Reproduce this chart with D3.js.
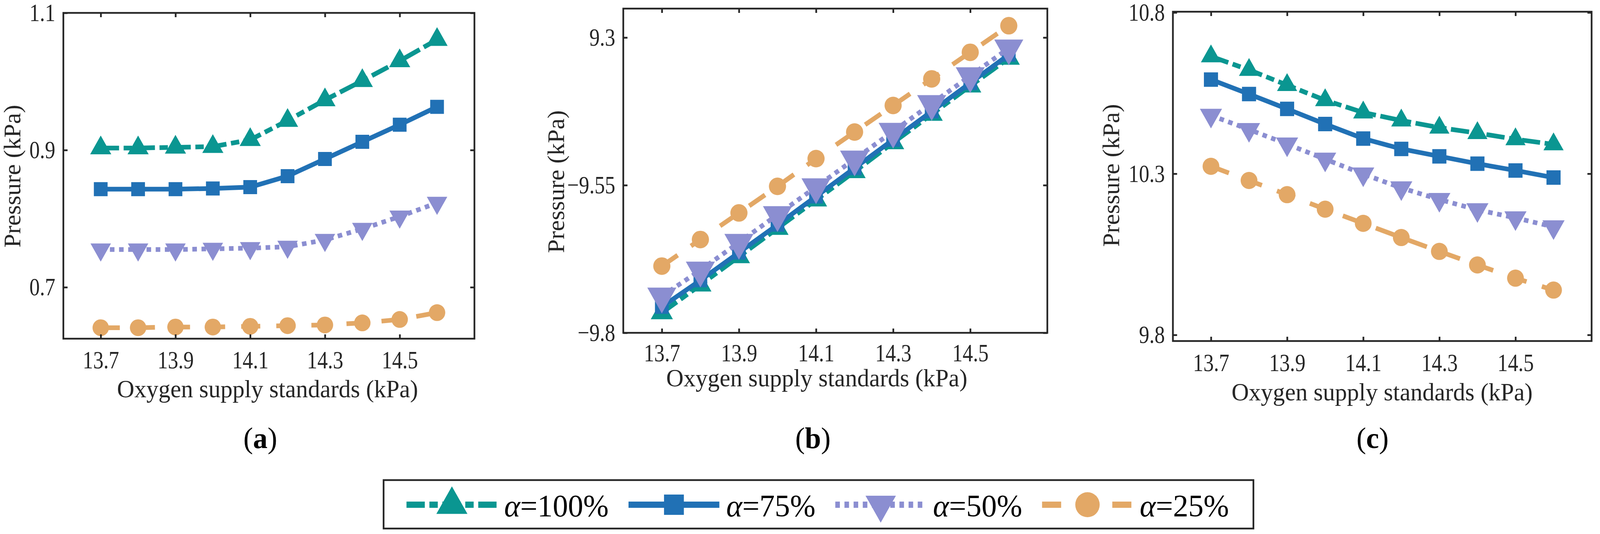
<!DOCTYPE html>
<html>
<head>
<meta charset="utf-8">
<script src="https://cdn.jsdelivr.net/npm/d3@7"></script>
<style>
  html, body { margin: 0; background: #fff; overflow: hidden; }
  svg, svg text { font-family: "Liberation Serif", "Times New Roman", serif; }
  svg { display: block; }
</style>
</head>
<body>
<div id="chart"></div>
<script>
const oxygenStandards = [13.7, 13.8, 13.9, 14.0, 14.1, 14.2, 14.3, 14.4, 14.5, 14.6];
const xTicks = [13.7, 13.9, 14.1, 14.3, 14.5];
const xTickLabels = ["13.7", "13.9", "14.1", "14.3", "14.5"];
const alphaLabels = ["100%", "75%", "50%", "25%"];
const panelTags = ["a", "b", "c"];
const xAxisTitle = "Oxygen supply standards (kPa)";
const yAxisTitle = "Pressure (kPa)";

// panel (a)
const pressureA100 = [0.903, 0.903, 0.904, 0.905, 0.915, 0.943, 0.973, 1.001, 1.030, 1.061];
const pressureA75 = [0.843, 0.843, 0.843, 0.844, 0.846, 0.862, 0.887, 0.912, 0.937, 0.963];
const pressureA50 = [0.755, 0.755, 0.755, 0.756, 0.757, 0.759, 0.769, 0.785, 0.803, 0.823];
const pressureA25 = [0.641, 0.641, 0.642, 0.642, 0.643, 0.644, 0.645, 0.648, 0.653, 0.663];
const yTicksA = [0.7, 0.9, 1.1];
const yTickLabelsA = ["0.7", "0.9", "1.1"];

// panel (b)
const pressureB100 = [-9.766, -9.719, -9.671, -9.623, -9.575, -9.527, -9.478, -9.430, -9.382, -9.335];
const pressureB75 = [-9.756, -9.711, -9.664, -9.617, -9.569, -9.521, -9.473, -9.425, -9.377, -9.329];
const pressureB50 = [-9.738, -9.694, -9.647, -9.600, -9.553, -9.506, -9.459, -9.412, -9.365, -9.318];
const pressureB25 = [-9.687, -9.642, -9.597, -9.552, -9.505, -9.460, -9.415, -9.370, -9.325, -9.280];
const yTicksB = [-9.8, -9.55, -9.3];
const yTickLabelsB = ["\u22129.8", "\u22129.55", "9.3"];

// panel (c)
const pressureC100 = [10.664, 10.622, 10.575, 10.528, 10.490, 10.465, 10.443, 10.426, 10.407, 10.391];
const pressureC75 = [10.592, 10.547, 10.501, 10.454, 10.409, 10.377, 10.354, 10.331, 10.310, 10.288];
const pressureC50 = [10.481, 10.437, 10.392, 10.345, 10.299, 10.256, 10.220, 10.188, 10.163, 10.135];
const pressureC25 = [10.323, 10.279, 10.235, 10.190, 10.146, 10.102, 10.059, 10.017, 9.976, 9.939];
const yTicksC = [9.8, 10.3, 10.8];
const yTickLabelsC = ["9.8", "10.3", "10.8"];

const ink = "#262626";
const serif = "Liberation Serif, Times New Roman, serif";
const tickSqueeze = 0.85; // tick numbers in the figure are narrower than Times
const seriesStyle = [
    { color: "#0a9691", dash: "48,12,22,12", marker: "up" },
    { color: "#2171b5", dash: null, marker: "square" },
    { color: "#8b8ed1", dash: "12,12", marker: "down" },
    { color: "#e3a866", dash: "50,42", marker: "circle" }
];

const panels = [
    { box: { left: 166, right: 1243, top: 33, bottom: 867 }, yDomain: [0.625, 1.1],
      yTicks: yTicksA, yTickLabels: yTickLabelsA,
      series: [pressureA100, pressureA75, pressureA50, pressureA25],
      sizes: { up: 32, square: 36, down: 31, circle: 21.5 },
      tickPad: 31, xTitle: [701, 1017], yTitle: [53, 451], tagX: 682 },
    { box: { left: 1633, right: 2744, top: 22, bottom: 852 }, yDomain: [-9.8, -9.251],
      yTicks: yTicksB, yTickLabels: yTickLabelsB,
      series: [pressureB100, pressureB75, pressureB50, pressureB25],
      sizes: { up: 33.5, square: 36, down: 44, circle: 22.5 },
      tickPad: 28, xTitle: [2140, 989], yTitle: [1478, 465], tagX: 2130 },
    { box: { left: 3073, right: 4170, top: 30, bottom: 873 }, yDomain: [9.781, 10.8025],
      yTicks: yTicksC, yTickLabels: yTickLabelsC,
      series: [pressureC100, pressureC75, pressureC50, pressureC25],
      sizes: { up: 30.5, square: 37, down: 33.5, circle: 22 },
      tickPad: 32, xTitle: [3621, 1025], yTitle: [2932, 449], tagX: 3596 }
];

function markerPath(type, s) {
    if (type === "up") return `M0,${-s}L${s * 0.866},${s / 2}L${-s * 0.866},${s / 2}Z`;
    if (type === "down") return `M0,${s}L${s * 0.866},${-s / 2}L${-s * 0.866},${-s / 2}Z`;
    if (type === "square") return `M${-s / 2},${-s / 2}h${s}v${s}h${-s}Z`;
    return d3.symbol(d3.symbolCircle, Math.PI * s * s)();
}

// the window may be narrower than 4192, so draw in 4192x1367 units and fit to it
const svg = d3.select("#chart")
    .append("svg")
    .attr("viewBox", "0 0 4192 1367")
    .attr("preserveAspectRatio", "none")
    .style("width", "100vw")
    .style("height", "100vh")
    .attr("font-family", serif);

function drawPanel(p, idx) {
    const b = p.box;
    const xScale = d3.scaleLinear().domain([13.6, 14.7]).range([b.left, b.right]);
    const yScale = d3.scaleLinear().domain(p.yDomain).range([b.bottom, b.top]);
    const g = svg.append("g").attr("class", "panel-" + panelTags[idx]);

    // series: line first, then its markers
    p.series.forEach((values, si) => {
        const st = seriesStyle[si];
        const pts = oxygenStandards.map((x, i) => [x, values[i]]);
        g.append("path")
            .datum(pts)
            .attr("fill", "none")
            .attr("stroke", st.color)
            .attr("stroke-width", 12)
            .attr("stroke-linejoin", "round")
            .attr("stroke-dasharray", st.dash)
            .attr("d", d3.line().x(d => xScale(d[0])).y(d => yScale(d[1])));
        g.selectAll(".m" + si)
            .data(pts)
            .enter().append("path")
            .attr("class", "m" + si)
            .attr("transform", d => `translate(${xScale(d[0])},${yScale(d[1])})`)
            .attr("d", markerPath(st.marker, p.sizes[st.marker]))
            .attr("fill", st.color);
    });

    const styleAxis = sel => {
        sel.select(".domain").remove();
        sel.attr("font-family", serif).attr("font-size", 64).attr("color", ink);
        sel.selectAll(".tick line").attr("stroke-width", 4.5);
        sel.selectAll(".tick text")
            .attr("fill", ink)
            .attr("font-family", serif)
            .attr("transform", `scale(${tickSqueeze},1)`);
    };

    g.append("g")
        .attr("transform", `translate(0,${b.bottom})`)
        .call(d3.axisBottom(xScale).tickValues(xTicks).tickFormat((d, i) => xTickLabels[i])
            .tickSize(-11).tickPadding(p.tickPad))
        .call(styleAxis);
    g.append("g")
        .attr("transform", `translate(0,${b.top})`)
        .call(d3.axisTop(xScale).tickValues(xTicks).tickFormat("").tickSize(-11))
        .call(styleAxis);
    g.append("g")
        .attr("transform", `translate(${b.left},0)`)
        .call(d3.axisLeft(yScale).tickValues(p.yTicks).tickFormat((d, i) => p.yTickLabels[i])
            .tickSize(-11).tickPadding(21 / tickSqueeze))
        .call(styleAxis);
    g.append("g")
        .attr("transform", `translate(${b.right},0)`)
        .call(d3.axisRight(yScale).tickValues(p.yTicks).tickFormat("").tickSize(-11))
        .call(styleAxis);

    g.append("rect")
        .attr("x", b.left)
        .attr("y", b.top)
        .attr("width", b.right - b.left)
        .attr("height", b.bottom - b.top)
        .attr("fill", "none")
        .attr("stroke", ink)
        .attr("stroke-width", 4.5);

    g.append("text")
        .attr("x", p.xTitle[0])
        .attr("y", p.xTitle[1])
        .attr("text-anchor", "middle")
        .attr("font-family", serif)
        .attr("font-size", 63)
        .attr("fill", ink)
        .text(xAxisTitle);

    g.append("text")
        .attr("transform", `translate(${p.yTitle[0]},${p.yTitle[1]}) rotate(-90)`)
        .attr("text-anchor", "middle")
        .attr("font-family", serif)
        .attr("font-size", 63)
        .attr("fill", ink)
        .text(yAxisTitle);

    const tag = g.append("text")
        .attr("x", p.tagX)
        .attr("y", 1147)
        .attr("text-anchor", "middle")
        .attr("font-family", serif)
        .attr("font-size", 76)
        .attr("fill", "#000");
    tag.append("tspan").text("(");
    tag.append("tspan").attr("font-weight", "bold").text(panelTags[idx]);
    tag.append("tspan").text(")");
}

panels.forEach(drawPanel);

// legend
const legendSizes = { up: 47, square: 52, down: 46, circle: 32 };
const legend = svg.append("g").attr("class", "legend");
const legendBox = legend.append("rect")
    .attr("x", 1005)
    .attr("y", 1229)
    .attr("height", 124)
    .attr("fill", "#fff")
    .attr("stroke", ink)
    .attr("stroke-width", 4.5);

let cursor = 1065;
seriesStyle.forEach((st, i) => {
    const item = legend.append("g").attr("transform", `translate(${cursor},1292)`);
    item.append("line")
        .attr("x1", 0)
        .attr("x2", 238)
        .attr("stroke", st.color)
        .attr("stroke-width", 16)
        .attr("stroke-dasharray", st.dash);
    item.append("path")
        .attr("transform", "translate(119,0)")
        .attr("d", markerPath(st.marker, legendSizes[st.marker]))
        .attr("fill", st.color);
    const label = item.append("text")
        .attr("x", 256)
        .attr("y", 30)
        .attr("font-family", serif)
        .attr("font-size", 80)
        .attr("fill", "#000");
    label.append("tspan").attr("font-style", "italic").text("\u03b1");
    label.append("tspan").text("=" + alphaLabels[i]);
    cursor += 256 + label.node().getComputedTextLength() + 52;
});
legendBox.attr("width", cursor - 52 + 64 - 1005);
</script>
</body>
</html>
